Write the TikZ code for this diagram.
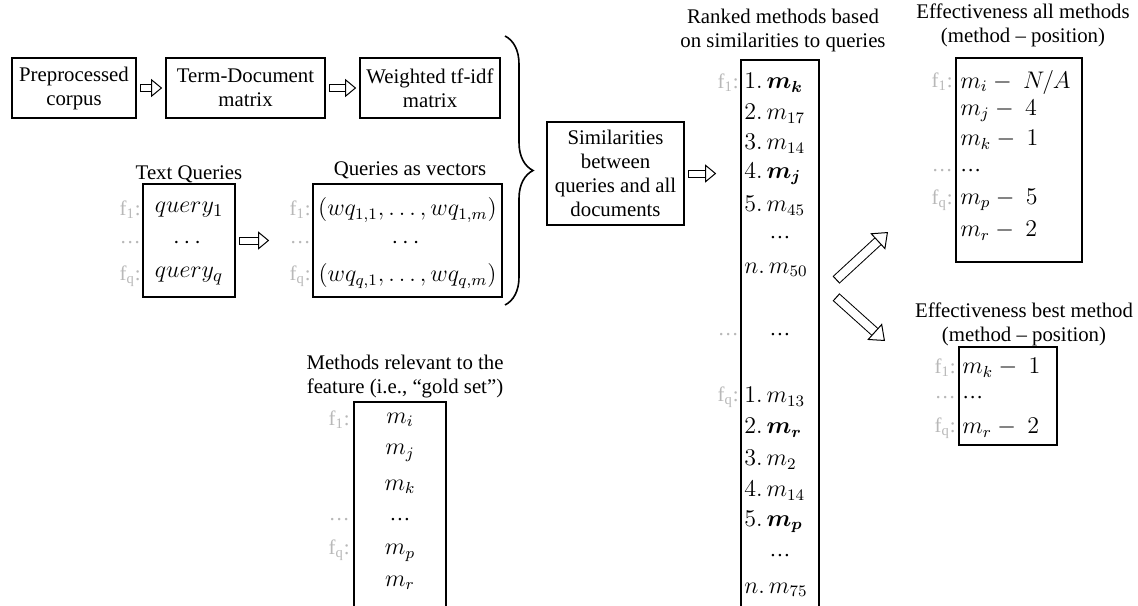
\documentclass[tikz,border=0pt]{standalone}
\usepackage{amsmath}
\usepackage[no-math]{fontspec}
\setmainfont{Liberation Serif}
\usetikzlibrary{arrows.meta,decorations.pathreplacing}

\begin{document}
\begin{tikzpicture}[x=0.5pt,y=-0.5pt,
txt/.style={font=\rmfamily\fontsize{10.4}{12}\selectfont,align=center,inner sep=0pt},
box/.style={draw,line width=0.8pt,inner sep=0pt,align=center,font=\rmfamily\fontsize{10.4}{12}\selectfont},
row/.style={font=\fontsize{12}{14}\selectfont,inner sep=0pt},
feat/.style={font=\rmfamily\fontsize{10.4}{12}\selectfont,text=black!28,inner sep=0pt,anchor=east},
arrow/.style={double=white,double distance=3pt,line width=0.5pt,
  {Bar[width=4pt,line width=0.5pt]}-{Triangle[open,length=5.5pt,width=9pt,line width=0.5pt]},
  shorten <=1.5pt,shorten >=1.5pt},
bigarrow/.style={double=white,double distance=4pt,line width=0.5pt,
  {Bar[width=5pt,line width=0.5pt]}-{Triangle[open,length=7pt,width=11pt,line width=0.5pt]}},
brace/.style={decorate,decoration={brace,amplitude=14pt},line width=0.8pt}]

\useasboundingbox (0,0) rectangle (1138,605);
\clip (0,0) rectangle (1138,605);

% corpus -> matrices
\node[box,minimum width=62pt,minimum height=30pt] (corpus) at (74,88) {Preprocessed\\corpus};
\node[box,minimum width=79.5pt,minimum height=30pt] (tdm) at (245.5,88) {Term-Document\\matrix};
\node[box,minimum width=70pt,minimum height=30pt] (tfidf) at (430,88) {Weighted tf-idf\\matrix};

\draw[arrow] (corpus) -- (tdm);
\draw[arrow] (tdm) -- (tfidf);

% queries
\node[txt] (tqlbl) at (189,174) {Text Queries};
\node[box,minimum width=46pt,minimum height=56.5pt] (tq) at (189,240.5) {};
\node[row,font=\fontsize{13}{15}\selectfont] (tq1) at (189,210) {$query_1$};
\node[row] (tq2) at (189,243) {$\cdots$};
\node[row,font=\fontsize{13}{15}\selectfont] (tq3) at (189,276) {$query_q$};
\node[feat] (tqf1) at (141,210) {f\textsubscript{1}:};
\node[feat] (tqf2) at (141,243) {\ldots};
\node[feat] (tqf3) at (141,276) {f\textsubscript{q}:};

\node[txt] (qvlbl) at (410,170) {Queries as vectors};
\node[box,minimum width=94.5pt,minimum height=56.5pt] (qv) at (407.5,240.5) {};
\node[row] (qv1) at (407.5,210) {$(wq_{1,1},\ldots,wq_{1,m})$};
\node[row] (qv2) at (407.5,243) {$\cdots$};
\node[row] (qv3) at (407.5,276) {$(wq_{q,1},\ldots,wq_{q,m})$};
\node[feat] (qvf1) at (311,210) {f\textsubscript{1}:};
\node[feat] (qvf2) at (311,243) {\ldots};
\node[feat] (qvf3) at (311,276) {f\textsubscript{q}:};

\draw[arrow,shorten >=21.5pt] (tq) -- (qv);

\coordinate (brt) at (505,36);
\coordinate (brb) at (505,305);
\draw[brace] (brt) -- (brb);

% similarities
\node[box,minimum width=68.5pt,minimum height=51.5pt] (sim) at (615.5,173.5) {Similarities\\between\\queries and all\\documents};

% ranked list
\node[txt] (rklbl) at (783,30) {Ranked methods based\\on similarities to queries};
\node[box,minimum width=39pt,minimum height=280pt] (ranked) at (780,340) {};

\draw[arrow,shorten >=12pt] (sim) -- (sim -| ranked.west);

\node[row,anchor=west] (rk1) at (744,83) {$1.\,\boldsymbol{m_k}$};
\node[row,anchor=west] (rk2) at (744,114) {$2.\,m_{17}$};
\node[row,anchor=west] (rk3) at (744,144) {$3.\,m_{14}$};
\node[row,anchor=west] (rk4) at (744,174) {$4.\,\boldsymbol{m_j}$};
\node[row,anchor=west] (rk5) at (744,206) {$5.\,m_{45}$};
\node[txt] (rk6) at (780,238) {\ldots};
\node[row,anchor=west] (rk7) at (744,270) {$n.\,m_{50}$};
\node[txt] (rk8) at (780,335) {\ldots};
\node[row,anchor=west] (rk9) at (744,397) {$1.\,m_{13}$};
\node[row,anchor=west] (rk10) at (744,428) {$2.\,\boldsymbol{m_r}$};
\node[row,anchor=west] (rk11) at (744,460) {$3.\,m_{2}$};
\node[row,anchor=west] (rk12) at (744,491) {$4.\,m_{14}$};
\node[row,anchor=west] (rk13) at (744,522) {$5.\,\boldsymbol{m_p}$};
\node[txt] (rk14) at (780,556) {\ldots};
\node[row,anchor=west] (rk15) at (744,590) {$n.\,m_{75}$};
\node[feat] (rkf1) at (739,83) {f\textsubscript{1}:};
\node[feat] (rkf2) at (739,335) {\ldots};
\node[feat] (rkf3) at (739,397) {f\textsubscript{q}:};

\coordinate (upa) at (836,280);
\coordinate (upb) at (888,232);
\coordinate (dna) at (836,297);
\coordinate (dnb) at (885,341);
\draw[bigarrow] (upa) -- (upb);
\draw[bigarrow] (dna) -- (dnb);

% effectiveness, all methods
\node[txt] (ealbl) at (1023,25) {Effectiveness all methods\\(method – position)};
\node[box,minimum width=63pt,minimum height=102pt] (effall) at (1019,160) {};
\node[row,anchor=west] (ea1) at (960,82) {$m_i -\ N/A$};
\node[row,anchor=west] (ea2) at (960,111) {$m_j -\ 4$};
\node[row,anchor=west] (ea3) at (960,140) {$m_k -\ 1$};
\node[txt,anchor=west] (ea4) at (960,171) {\ldots};
\node[row,anchor=west] (ea5) at (960,200) {$m_p -\ 5$};
\node[row,anchor=west] (ea6) at (960,231) {$m_r -\ 2$};
\node[feat] (eaf1) at (953,82) {f\textsubscript{1}:};
\node[feat] (eaf2) at (953,171) {\ldots};
\node[feat] (eaf3) at (953,200) {f\textsubscript{q}:};

% effectiveness, best method
\node[txt] (eblbl) at (1024,324) {Effectiveness best method\\(method – position)};
\node[box,minimum width=49pt,minimum height=49pt] (effbest) at (1008,396) {};
\node[row,anchor=west] (eb1) at (962,368) {$m_k -\ 1$};
\node[txt,anchor=west] (eb2) at (962,398) {\ldots};
\node[row,anchor=west] (eb3) at (962,428) {$m_r -\ 2$};
\node[feat] (ebf1) at (956,368) {f\textsubscript{1}:};
\node[feat] (ebf2) at (956,398) {\ldots};
\node[feat] (ebf3) at (956,428) {f\textsubscript{q}:};

% gold set
\node[txt] (gslbl) at (405,377) {Methods relevant to the\\feature (i.e., “gold set”)};
\node[box,minimum width=46pt,minimum height=109pt] (gold) at (400,511) {};
\node[row] (gs1) at (400,420) {$m_i$};
\node[row] (gs2) at (400,453) {$m_j$};
\node[row] (gs3) at (400,487) {$m_k$};
\node[txt] (gs4) at (400,520) {\ldots};
\node[row] (gs5) at (400,553) {$m_p$};
\node[row] (gs6) at (400,583) {$m_r$};
\node[feat] (gsf1) at (350,420) {f\textsubscript{1}:};
\node[feat] (gsf2) at (350,520) {\ldots};
\node[feat] (gsf3) at (350,550) {f\textsubscript{q}:};

\end{tikzpicture}
\end{document}
